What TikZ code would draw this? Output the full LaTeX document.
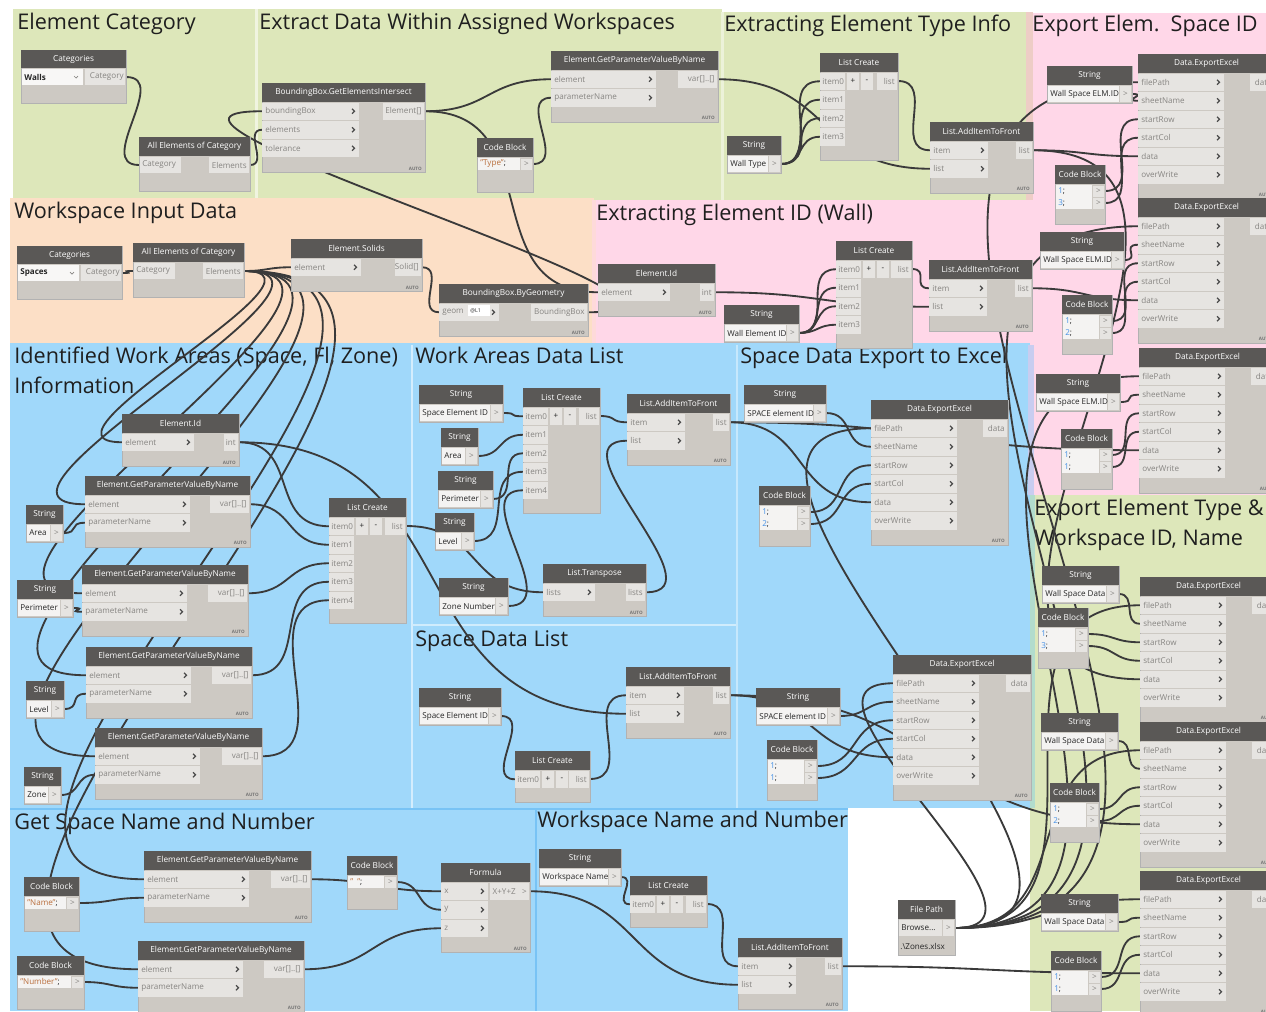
\documentclass[tikz,border=0pt]{standalone}
\usepackage{fontspec}
\setmainfont{Open Sans}
\usetikzlibrary{calc}

% group and node colours
\definecolor{grpgreen}{RGB}{221,231,186}
\definecolor{grppeach}{RGB}{252,223,198}
\definecolor{grppink}{RGB}{255,215,232}
\definecolor{grpblue}{RGB}{160,216,250}
\definecolor{headcol}{RGB}{90,88,86}
\definecolor{bodycol}{RGB}{205,201,195}
\definecolor{portcol}{RGB}{230,228,225}
\definecolor{labcol}{RGB}{135,133,130}
\definecolor{linkcol}{RGB}{58,58,58}
\definecolor{codenum}{RGB}{70,145,230}
\definecolor{codestr}{RGB}{185,110,60}
\definecolor{sepblue}{RGB}{120,195,245}
\definecolor{seamsalmon}{RGB}{238,205,198}
\definecolor{seamviolet}{RGB}{200,205,240}
\definecolor{seamteal}{RGB}{178,220,205}

\pgfdeclarelayer{groups}
\pgfdeclarelayer{links}
\pgfsetlayers{groups,links,main}

\tikzset{
  nodebody/.style={fill=bodycol, draw=black!30, line width=0.3pt},
  nodehead/.style={fill=headcol},
  portbox/.style={fill=portcol},
  valbox/.style={fill=white!55!portcol},
  htxt/.style={text=white, font=\fontsize{4.7}{5}\selectfont, inner sep=0pt},
  ltxt/.style={text=labcol, font=\fontsize{4.6}{5}\selectfont, inner sep=0pt, anchor=west},
  rtxt/.style={text=labcol, font=\fontsize{4.6}{5}\selectfont, inner sep=0pt, anchor=east},
  dtxt/.style={text=black!85, font=\fontsize{4.6}{5}\selectfont, inner sep=0pt, anchor=west},
  gtxt/.style={text=labcol, font=\fontsize{4.6}{5}\selectfont, inner sep=0pt},
  autotxt/.style={text=black!55, font=\fontsize{2.6}{3}\selectfont\bfseries, inner sep=0pt, anchor=south east},
  chev/.style={draw=black!70, line width=0.75pt},
  linkline/.style={draw=linkcol, line width=1.05pt},
  grptitle/.style={anchor=north west, inner sep=0pt, align=left, text=black!88, font=\fontsize{12.3}{17}\selectfont},
}

% function node: name, x, y, width, rows, title, input width, inputs, outputs (label/width)
\newcommand\dynfn[9]{%
  \fill[nodebody] (#2,#3) rectangle ++(#4,{19+18.5*#5+15});
  \fill[nodehead] (#2,#3) rectangle ++(#4,19);
  \node[htxt] (#1) at ({#2+#4/2},{#3+9.5}) {#6};
  \foreach \plab [count=\k] in {#8} {
    \fill[portbox] (#2,{#3+19+18.5*(\k-1)+0.5}) rectangle ++(#7,17.5);
    \node[ltxt] (#1-l\k) at ({#2+3},{#3+19+18.5*(\k-0.5)}) {\plab};
    \draw[chev] ({#2+#7-7},{#3+19+18.5*(\k-0.5)-2.5}) -- ++(2.5,2.5) -- ++(-2.5,2.5);
    \coordinate (#1-i\k) at (#2,{#3+19+18.5*(\k-0.5)});
  }
  \foreach \plab/\pw [count=\k] in {#9} {
    \fill[portbox] ({#2+#4-\pw},{#3+19+18.5*(\k-1)+0.5}) rectangle ++({\pw-1},17.5);
    \node[rtxt] (#1-m\k) at ({#2+#4-3},{#3+19+18.5*(\k-0.5)}) {\plab};
    \coordinate (#1-o\k) at ({#2+#4},{#3+19+18.5*(\k-0.5)});
  }
  \node[autotxt] (#1-a) at ({#2+#4-3},{#3+19+18.5*#5+13}) {AUTO};
}

% string input node: name, x, y, width, value
\newcommand\dynstr[5]{%
  \fill[nodebody] (#2,#3) rectangle ++(#4,37);
  \fill[nodehead] (#2,#3) rectangle ++(#4,19);
  \node[htxt] (#1) at ({#2+#4/2},{#3+9.5}) {String};
  \fill[valbox] ({#2+1},{#3+20}) rectangle ({#2+#4-13},{#3+36});
  \fill[portbox] ({#2+#4-12},{#3+20}) rectangle ({#2+#4-1},{#3+36});
  \node[dtxt] (#1-v) at ({#2+3},{#3+28}) {#5};
  \node[gtxt] (#1-g) at ({#2+#4-6.5},{#3+28}) {>};
  \coordinate (#1-o) at ({#2+#4},{#3+28});
}

% code block: name, x, y, width, height, code lines
\newcommand\dyncb[6]{%
  \fill[nodebody] (#2,#3) rectangle ++(#4,#5);
  \fill[nodehead] (#2,#3) rectangle ++(#4,19);
  \node[htxt] (#1) at ({#2+#4/2},{#3+9.5}) {Code Block};
  \foreach \cdl [count=\k] in {#6} {
    \fill[valbox] ({#2+1},{#3+20+12*(\k-1)}) rectangle ({#2+#4-13},{#3+32+12*(\k-1)});
    \fill[portbox] ({#2+#4-12},{#3+20.5+12*(\k-1)}) rectangle ({#2+#4-1},{#3+31.5+12*(\k-1)});
    \node[dtxt] (#1-c\k) at ({#2+3},{#3+26+12*(\k-1)}) {\cdl};
    \node[gtxt] (#1-g\k) at ({#2+#4-6.5},{#3+26+12*(\k-1)}) {>};
    \coordinate (#1-o\k) at ({#2+#4},{#3+26+12*(\k-1)});
  }
}

% list create: name, x, y, width, number of items
\newcommand\dynlc[5]{%
  \fill[nodebody] (#2,#3) rectangle ++(#4,{19+18.5*#5+14});
  \fill[nodehead] (#2,#3) rectangle ++(#4,19);
  \node[htxt] (#1) at ({#2+#4/2},{#3+9.5}) {List Create};
  \foreach \k in {1,...,#5} {
    \pgfmathtruncatemacro\kk{\k-1}
    \fill[portbox] (#2,{#3+19+18.5*(\k-1)+0.5}) rectangle ++(25,17.5);
    \node[ltxt] (#1-l\k) at ({#2+2},{#3+19+18.5*(\k-0.5)}) {item\kk};
    \coordinate (#1-i\k) at (#2,{#3+19+18.5*(\k-0.5)});
  }
  \fill[portbox] ({#2+27},{#3+19.5}) rectangle ++(12,17.5);
  \fill[portbox] ({#2+41},{#3+19.5}) rectangle ++(12,17.5);
  \fill[portbox] ({#2+#4-21},{#3+19.5}) rectangle ++(20,17.5);
  \node[dtxt,anchor=center] (#1-plus) at ({#2+33},{#3+28}) {+};
  \node[dtxt,anchor=center] (#1-minus) at ({#2+47},{#3+28}) {-};
  \node[rtxt] (#1-r) at ({#2+#4-3},{#3+28}) {list};
  \coordinate (#1-o) at ({#2+#4},{#3+28});
}

% category picker: name, x, y, width, value
\newcommand\dyncat[5]{%
  \fill[nodebody] (#2,#3) rectangle ++(#4,53);
  \fill[nodehead] (#2,#3) rectangle ++(#4,18);
  \node[htxt] (#1) at ({#2+#4/2},{#3+9}) {Categories};
  \fill[white!70!portcol] ({#2+1},{#3+19}) rectangle ({#2+62},{#3+35});
  \node[dtxt,font=\fontsize{4.6}{5}\selectfont\bfseries] (#1-v) at ({#2+3},{#3+27}) {#5};
  \draw[labcol,line width=0.4pt] ({#2+53},{#3+26}) -- ++(2,2) -- ++(2,-2);
  \fill[portbox] ({#2+64},{#3+19}) rectangle ({#2+#4-1},{#3+35});
  \node[rtxt] (#1-c) at ({#2+#4-2},{#3+27}) {Category};
  \coordinate (#1-o) at ({#2+#4},{#3+27});
}

% all elements of category: name, x, y
\newcommand\dynaec[3]{%
  \fill[nodebody] (#2,#3) rectangle ++(111,54);
  \fill[nodehead] (#2,#3) rectangle ++(111,19);
  \node[htxt] (#1) at ({#2+55.5},{#3+9.5}) {All Elements of Category};
  \fill[portbox] ({#2+1},{#3+20}) rectangle ++(41,16);
  \fill[portbox] ({#2+70},{#3+20}) rectangle ++(40,16);
  \node[ltxt] (#1-l) at ({#2+3},{#3+28}) {Category};
  \node[rtxt] (#1-r) at ({#2+108},{#3+28}) {Elements};
  \coordinate (#1-i) at (#2,{#3+28});
  \coordinate (#1-o) at ({#2+111},{#3+28});
}

% file path picker: name, x, y
\newcommand\dynfp[3]{%
  \fill[nodebody] (#2,#3) rectangle ++(57,55);
  \fill[nodehead] (#2,#3) rectangle ++(57,19);
  \node[htxt] (#1) at ({#2+28.5},{#3+9.5}) {File Path};
  \fill[portbox] ({#2+1},{#3+20}) rectangle ++(43,16);
  \fill[portbox] ({#2+45},{#3+20}) rectangle ++(11,16);
  \node[dtxt] (#1-b) at ({#2+3},{#3+28}) {Browse...};
  \node[gtxt] (#1-g) at ({#2+50.5},{#3+28}) {>};
  \node[dtxt] (#1-f) at ({#2+2},{#3+46}) {.\textbackslash Zones.xlsx};
  \coordinate (#1-o) at ({#2+57},{#3+28});
}

% wire between two ports, horizontal tangents, reach grows with length
\newcommand\lnk[2]{%
  \draw[linkline] let \p1=(#1), \p2=(#2), \n1={max(0.5*veclen(\x2-\x1,\y2-\y1),10pt)} in
    (\p1) .. controls +(\n1,0) and +(-\n1,0) .. (\p2);
}

\begin{document}
\begin{tikzpicture}[x=0.02cm,y=-0.02cm]
\useasboundingbox (0,0) rectangle (1266,1011);

% ---------------- groups ----------------
\begin{pgfonlayer}{groups}
\clip (0,0) rectangle (1266,1011);
\fill[white] (0,0) rectangle (1266,1011);
\fill[grpgreen] (13,9) rectangle (256,198);
\fill[grpgreen] (256,9) rectangle (722,200);
\fill[grpgreen] (722,12) rectangle (1030,200);
\fill[grppink] (1030,13) rectangle (1266,495);
\fill[grppeach] (10,198) rectangle (594,343);
\fill[grppink] (594,200) rectangle (1030,345);
\fill[grpblue] (10,343) rectangle (1030,808);
\fill[grpblue] (10,808) rectangle (848,1011);
\fill[grpgreen] (1030,495) rectangle (1266,1011);
% seams where groups overlap
\fill[white!55!grpgreen] (255,9) rectangle (257.5,198);
\fill[white!45!grpgreen] (721,12) rectangle (724,200);
\fill[seamsalmon] (1026,12) rectangle (1033,200);
\fill[seamviolet] (1028,345) rectangle (1034,495);
\fill[seamteal] (1030,495) rectangle (1035,808);
\fill[grppink!60!grppeach] (592,200) rectangle (596,343);
\draw[white!55!grpblue, line width=0.8pt] (412,345) -- (412,808);
\draw[white!50!grpblue, line width=1.2pt] (412,625) -- (737,625);
\draw[white!40!grpblue, line width=0.8pt] (737,345) -- (737,808);
\draw[sepblue, line width=1.5pt] (10,809) -- (848,809);
\draw[sepblue, line width=1.5pt] (536,809) -- (536,1011);
% group titles
\node[grptitle] (t1) at (17,13) {Element Category};
\node[grptitle] (t2) at (259,13) {Extract Data Within Assigned Workspaces};
\node[grptitle] (t3) at (724,15) {Extracting Element Type Info};
\node[grptitle] (t4) at (1032,15) {Export Elem.\ \ Space ID};
\node[grptitle] (t5) at (14,202) {Workspace Input Data};
\node[grptitle] (t6) at (596,204) {Extracting Element ID (Wall)};
\node[grptitle] (t7) at (14,347) {Identified Work Areas (Space, Fl, Zone)\\Information};
\node[grptitle] (t8) at (415,347) {Work Areas Data List};
\node[grptitle] (t9) at (415,630) {Space Data List};
\node[grptitle] (t10) at (740,347) {Space Data Export to Excel};
\node[grptitle] (t11) at (14,813) {Get Space Name and Number};
\node[grptitle] (t12) at (537,811) {Workspace Name and Number};
\node[grptitle] (t13) at (1034,499) {Export Element Type \&\\Workspace ID, Name};
\end{pgfonlayer}

\clip (0,0) rectangle (1266,1011);

% ---------------- Element Category ----------------
\dyncat{catW}{21}{50}{105}{Walls}
\dynaec{aecW}{139}{137}

% ---------------- Extract Data Within Assigned Workspaces ----------------
\dynfn{bbgei}{262}{83}{163}{3}{BoundingBox.GetElementsIntersect}{97}{boundingBox,elements,tolerance}{Element[]/42}
\dynfn{gpvT}{551}{51}{167}{2}{Element.GetParameterValueByName}{105}{element,parameterName}{var[]..[]/40}
\dyncb{cbType}{477}{138}{56}{54}{{\color{codestr}"Type"};}

% ---------------- Extracting Element Type Info ----------------
\dynlc{lcT}{820}{53}{78}{4}
\dynstr{sWT}{727}{136}{54}{Wall Type}
\dynfn{laT}{930}{122}{103}{2}{List.AddItemToFront}{58}{item,list}{list/17}

% ---------------- Export Elem. Space ID ----------------
\dynstr{sE1}{1047}{66}{85}{Wall Space ELM.ID}
\dynfn{ee1}{1138}{54}{137}{6}{Data.ExportExcel}{86}{filePath,sheetName,startRow,startCol,data,overWrite}{data/25}
\dyncb{cb13a}{1055}{165}{50}{59}{{\color{codenum}1};,{\color{codenum}3};}
\dynfn{ee2}{1138}{198}{137}{6}{Data.ExportExcel}{86}{filePath,sheetName,startRow,startCol,data,overWrite}{data/25}
\dynstr{sE2}{1040}{232}{84}{Wall Space ELM.ID}
\dyncb{cb12a}{1062}{295}{50}{59}{{\color{codenum}1};,{\color{codenum}2};}
\dynfn{ee3}{1139}{348}{137}{6}{Data.ExportExcel}{86}{filePath,sheetName,startRow,startCol,data,overWrite}{data/25}
\dynstr{sE3}{1036}{374}{84}{Wall Space ELM.ID}
\dyncb{cb11a}{1061}{429}{51}{60}{{\color{codenum}1};,{\color{codenum}1};}

% ---------------- Export Element Type & Workspace ID, Name ----------------
\dynstr{sD1}{1042}{566}{77}{Wall Space Data}
\dyncb{cb13b}{1038}{608}{50}{60}{{\color{codenum}1};,{\color{codenum}3};}
\dynfn{ee4}{1140}{577}{137}{6}{Data.ExportExcel}{86}{filePath,sheetName,startRow,startCol,data,overWrite}{data/25}
\dynfn{ee5}{1140}{722}{137}{6}{Data.ExportExcel}{86}{filePath,sheetName,startRow,startCol,data,overWrite}{data/25}
\dynstr{sD2}{1041}{713}{77}{Wall Space Data}
\dyncb{cb12b}{1050}{783}{49}{59}{{\color{codenum}1};,{\color{codenum}2};}
\dynfn{ee6}{1140}{871}{137}{6}{Data.ExportExcel}{86}{filePath,sheetName,startRow,startCol,data,overWrite}{data/25}
\dynstr{sD3}{1041}{894}{77}{Wall Space Data}
\dyncb{cb11b}{1051}{951}{50}{60}{{\color{codenum}1};,{\color{codenum}1};}

% ---------------- file path ----------------
\dynfp{fpath}{898}{900}

% ---------------- Workspace Input Data ----------------
\dyncat{catS}{17}{246}{105}{Spaces}
\dynaec{aecS}{133}{243}
\dynfn{solids}{291}{239}{131}{1}{Element.Solids}{70}{element}{Solid[]/27}
\dynfn{bbgeo}{439}{284}{149}{1}{BoundingBox.ByGeometry}{60}{geom}{BoundingBox/57}
\fill[white] (468,305) rectangle ++(22,11);
\node[dtxt,font=\fontsize{3}{3}\selectfont] (bbgeo-s) at (470,310.5) {@L1};

% ---------------- Extracting Element ID (Wall) ----------------
\dynfn{eidW}{598}{264}{117}{1}{Element.Id}{72}{element}{int/15}
\dynstr{sWE}{724}{305}{75}{Wall Element ID}
\dynlc{lcW}{836}{241}{76}{4}
\dynfn{laW}{929}{260}{103}{2}{List.AddItemToFront}{58}{item,list}{list/17}

% ---------------- Identified Work Areas ----------------
\dynfn{eidS}{122}{414}{117}{1}{Element.Id}{72}{element}{int/15}
\dynfn{gA}{85}{476}{165}{2}{Element.GetParameterValueByName}{105}{element,parameterName}{var[]..[]/40}
\dynstr{sArea}{26}{505}{37}{Area}
\dynfn{gB}{82}{565}{166}{2}{Element.GetParameterValueByName}{105}{element,parameterName}{var[]..[]/40}
\dynstr{sPer}{17}{580}{56}{Perimeter}
\dynlc{lc3}{329}{498}{77}{5}
\dynfn{gC}{86}{647}{166}{2}{Element.GetParameterValueByName}{105}{element,parameterName}{var[]..[]/40}
\dynstr{sLev}{26}{681}{38}{Level}
\dynfn{gD}{95}{728}{167}{2}{Element.GetParameterValueByName}{105}{element,parameterName}{var[]..[]/40}
\dynstr{sZone}{24}{767}{37}{Zone}

% ---------------- Work Areas Data List ----------------
\dynstr{hSE}{419}{385}{84}{Space Element ID}
\dynstr{hArea}{441}{428}{37}{Area}
\dynstr{hPer}{438}{471}{55}{Perimeter}
\dynstr{hLev}{435}{513}{39}{Level}
\dynstr{hZone}{439}{578}{69}{Zone Number}
\dynlc{lc4}{523}{388}{77}{5}
\dynfn{la3}{627}{394}{103}{2}{List.AddItemToFront}{58}{item,list}{list/17}
\dynfn{trans}{543}{564}{103}{1}{List.Transpose}{52}{lists}{lists/20}

% ---------------- Space Data List ----------------
\dynstr{hSE2}{419}{688}{82}{Space Element ID}
\dynlc{lc5}{515}{751}{75}{1}
\dynfn{la4}{626}{667}{104}{2}{List.AddItemToFront}{58}{item,list}{list/17}

% ---------------- Space Data Export to Excel ----------------
\dynstr{sSP1}{744}{385}{82}{SPACE element ID}
\dyncb{cbA}{759}{486}{51}{60}{{\color{codenum}1};,{\color{codenum}2};}
\dynfn{eeA}{871}{400}{137}{6}{Data.ExportExcel}{86}{filePath,sheetName,startRow,startCol,data,overWrite}{data/25}
\dynfn{eeB}{893}{655}{138}{6}{Data.ExportExcel}{86}{filePath,sheetName,startRow,startCol,data,overWrite}{data/25}
\dynstr{sSP2}{756}{688}{84}{SPACE element ID}
\dyncb{cbB}{767}{740}{50}{60}{{\color{codenum}1};,{\color{codenum}1};}

% ---------------- Get Space Name and Number ----------------
\dynfn{gE}{144}{851}{167}{2}{Element.GetParameterValueByName}{105}{element,parameterName}{var[]..[]/40}
\dyncb{cbSp}{347}{856}{50}{53}{{\color{codestr}"\ \ "};}
\dyncb{cbName}{24}{877}{55}{54}{{\color{codestr}"Name"};}
\dynfn{gF}{138}{941}{166}{2}{Element.GetParameterValueByName}{105}{element,parameterName}{var[]..[]/40}
\dyncb{cbNum}{17}{956}{67}{53}{{\color{codestr}"Number"};}
\dynfn{formula}{441}{863}{89}{3}{Formula}{47}{x,y,z}{X+Y+Z\ \ \ >/40}

% ---------------- Workspace Name and Number ----------------
\dynstr{sWN}{539}{849}{82}{Workspace Name}
\dynlc{lc6}{630}{876}{77}{1}
\dynfn{la5}{738}{938}{104}{2}{List.AddItemToFront}{58}{item,list}{list/17}

% ---------------- wires ----------------
\begin{pgfonlayer}{links}
\clip (0,0) rectangle (1266,1011);
% walls
\lnk{catW-o}{aecW-i}
\lnk{aecW-o}{bbgei-i2}
\lnk{bbgeo-o1}{bbgei-i1}
\lnk{bbgei-o1}{gpvT-i1}
\lnk{bbgei-o1}{eidW-i1}
\lnk{cbType-o1}{gpvT-i2}
\lnk{gpvT-o1}{laT-i2}
\foreach \k in {1,...,4}{\lnk{sWT-o}{lcT-i\k}}
\lnk{lcT-o}{laT-i1}
\lnk{eidW-o1}{laW-i2}
\foreach \k in {1,...,4}{\lnk{sWE-o}{lcW-i\k}}
\lnk{lcW-o}{laW-i1}
% spaces
\lnk{catS-o}{aecS-i}
\lnk{aecS-o}{solids-i1}
\lnk{solids-o1}{bbgeo-i1}
\foreach \t in {eidS,gA,gB,gC,gD,gE,gF}{\lnk{aecS-o}{\t-i1}}
\lnk{sArea-o}{gA-i2}
\lnk{sPer-o}{gB-i2}
\lnk{sLev-o}{gC-i2}
\lnk{sZone-o}{gD-i2}
\lnk{eidS-o1}{lc3-i1}
\lnk{gA-o1}{lc3-i2}
\lnk{gB-o1}{lc3-i3}
\lnk{gC-o1}{lc3-i4}
\lnk{gD-o1}{lc3-i5}
\lnk{lc3-o}{trans-i1}
\lnk{trans-o1}{la3-i2}
\lnk{hSE-o}{lc4-i1}
\lnk{hArea-o}{lc4-i2}
\lnk{hPer-o}{lc4-i3}
\lnk{hLev-o}{lc4-i4}
\lnk{hZone-o}{lc4-i5}
\lnk{lc4-o}{la3-i1}
\lnk{hSE2-o}{lc5-i1}
\lnk{lc5-o}{la4-i1}
\lnk{eidS-o1}{la4-i2}
% names and numbers
\lnk{cbName-o1}{gE-i2}
\lnk{cbNum-o1}{gF-i2}
\lnk{gE-o1}{formula-i1}
\lnk{cbSp-o1}{formula-i2}
\lnk{gF-o1}{formula-i3}
\lnk{formula-o1}{la5-i2}
\lnk{sWN-o}{lc6-i1}
\lnk{lc6-o}{la5-i1}
% exports
\foreach \t in {eeA,eeB,ee1,ee2,ee3,ee4,ee5,ee6}{\lnk{fpath-o}{\t-i1}}
\lnk{sSP1-o}{eeA-i2}
\lnk{cbA-o1}{eeA-i3}
\lnk{cbA-o2}{eeA-i4}
\lnk{la3-o1}{eeA-i5}
\lnk{sSP2-o}{eeB-i2}
\lnk{cbB-o1}{eeB-i3}
\lnk{cbB-o2}{eeB-i4}
\lnk{la4-o1}{eeB-i5}
\lnk{sE1-o}{ee1-i2}
\lnk{cb13a-o1}{ee1-i3}
\lnk{cb13a-o2}{ee1-i4}
\lnk{laT-o1}{ee1-i5}
\lnk{sE2-o}{ee2-i2}
\lnk{cb12a-o1}{ee2-i3}
\lnk{cb12a-o2}{ee2-i4}
\lnk{laW-o1}{ee2-i5}
\lnk{sE3-o}{ee3-i2}
\lnk{cb11a-o1}{ee3-i3}
\lnk{cb11a-o2}{ee3-i4}
\lnk{la3-o1}{ee3-i5}
\lnk{sD1-o}{ee4-i2}
\lnk{cb13b-o1}{ee4-i3}
\lnk{cb13b-o2}{ee4-i4}
\lnk{laT-o1}{ee4-i5}
\lnk{sD2-o}{ee5-i2}
\lnk{cb12b-o1}{ee5-i3}
\lnk{cb12b-o2}{ee5-i4}
\lnk{la4-o1}{ee5-i5}
\lnk{sD3-o}{ee6-i2}
\lnk{cb11b-o1}{ee6-i3}
\lnk{cb11b-o2}{ee6-i4}
\lnk{la5-o1}{ee6-i5}
\end{pgfonlayer}
\end{tikzpicture}
\end{document}
